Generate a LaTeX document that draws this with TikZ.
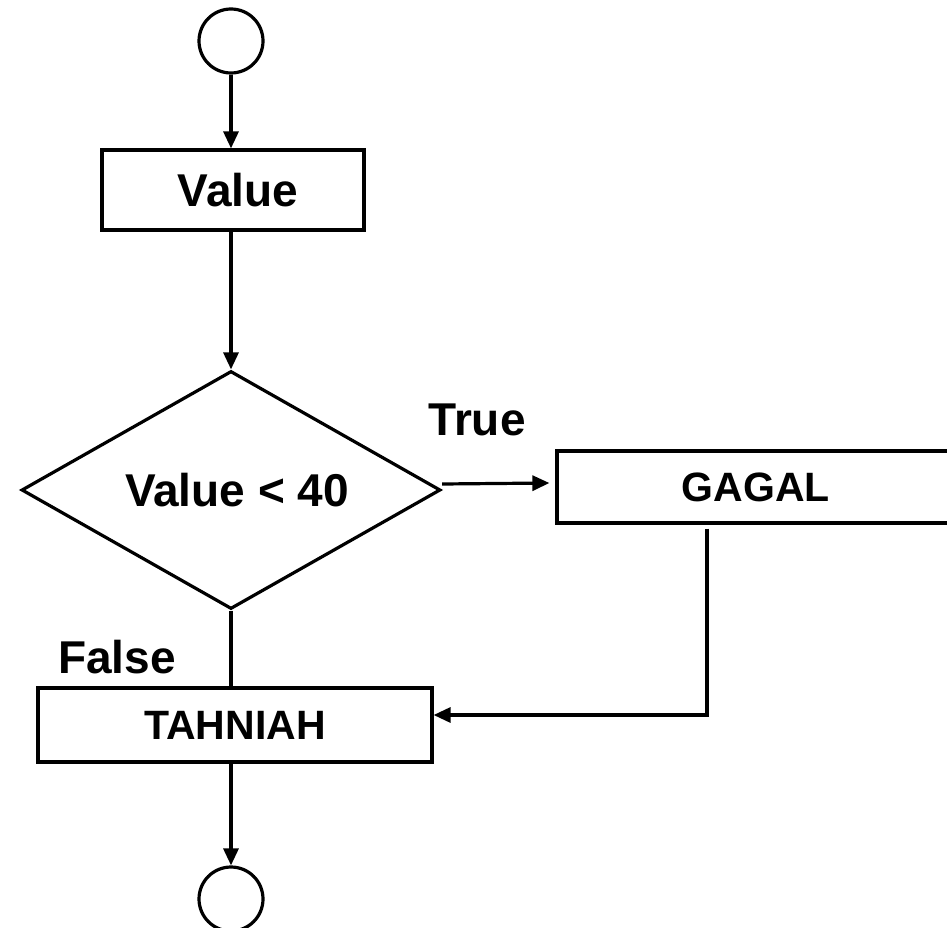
\documentclass[tikz,border=0pt]{standalone}
\usepackage{fontspec}
\setmainfont{Liberation Sans}
\usetikzlibrary{shapes.geometric, arrows.meta}

\begin{document}
\begin{tikzpicture}[x=1pt, y=-1pt, line width=3.2pt,
  terminal/.style={draw, circle, minimum size=64pt, inner sep=0pt},
  process/.style={draw, rectangle, inner sep=0pt, font=\fontsize{41}{48}\selectfont\bfseries},
  decision/.style={draw, diamond, aspect=2, inner sep=0pt, minimum width=419pt, minimum height=238pt, font=\fontsize{46}{54}\selectfont\bfseries},
  flow/.style={-{Triangle[length=17pt, width=15pt]}},
  branch/.style={font=\fontsize{46}{54}\selectfont\bfseries}]
\useasboundingbox (0,0) rectangle (947,928);

\node[terminal] (start) at (231, 41) {};
\node[process, minimum width=262pt, minimum height=80pt, font=\fontsize{46}{54}\selectfont\bfseries] (value) at (233, 190) {\hspace*{10pt}Value};
\node[decision] (test) at (231, 490) {\hspace*{12pt}Value < 40};
\node[process, minimum width=398pt, minimum height=72pt] (gagal) at (756, 487) {GAGAL};
\node[process, minimum width=394pt, minimum height=74pt] (tahniah) at (235, 725) {TAHNIAH};
\node[terminal] (stop) at (231, 899) {};

\node[branch] (true) at (477, 420) {True};
\node[branch] (false) at (117, 657) {False};

\draw[flow] (start.south) -- (start.south |- value.north);
\draw[flow] (start.south |- value.south) -- (test.north);
\draw[flow] ([yshift=6pt]test.east) -- ([yshift=4pt, xshift=-6pt]gagal.west);
\draw[flow, shorten <=4pt] ([xshift=-49pt]gagal.south) |- ([yshift=10pt]tahniah.east);
\draw (test.south) -- (test.south |- tahniah.north);
\draw[flow] (stop.north |- tahniah.south) -- (stop.north);
\end{tikzpicture}
\end{document}
